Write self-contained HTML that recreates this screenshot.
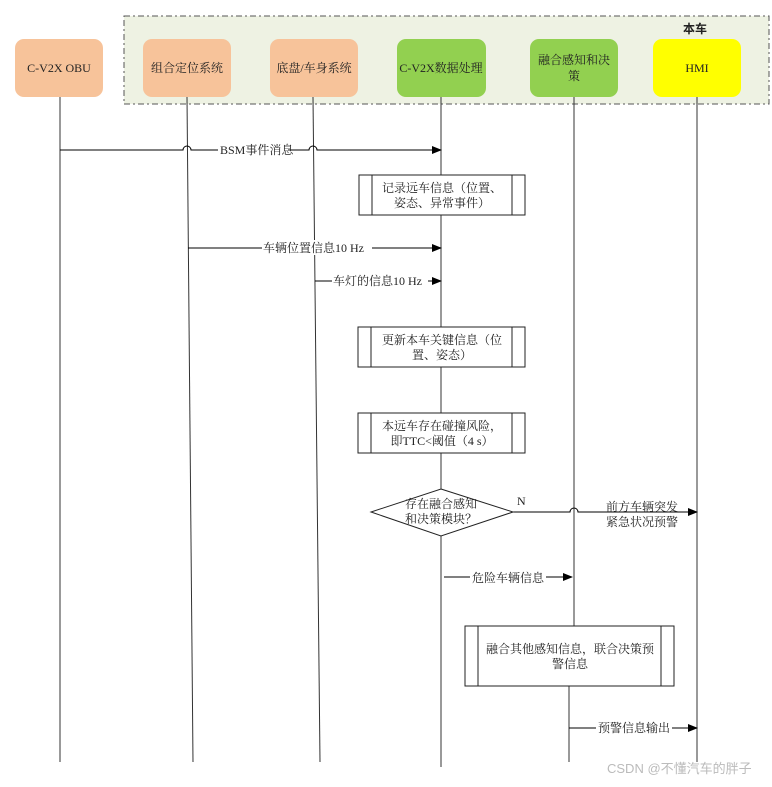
<!DOCTYPE html>
<html><head><meta charset="utf-8"><style>
body{margin:0;background:#fff;width:772px;height:782px;overflow:hidden}
svg text{font-family:"Liberation Serif","Noto Serif CJK SC","Noto Sans CJK SC",serif;font-size:12px;fill:#222}
</style></head><body>
<svg width="772" height="782" viewBox="0 0 772 782" xmlns="http://www.w3.org/2000/svg">
<defs><marker id="a" markerWidth="10" markerHeight="8" refX="9" refY="4" orient="auto" markerUnits="userSpaceOnUse"><path d="M0,0 L10,4 L0,8z" fill="#000"/></marker></defs>
<rect x="124" y="16" width="645" height="88" fill="#eef2e3" stroke="#555" stroke-dasharray="6,3,2,3"/>
<text x="683" y="33" font-weight="bold" style="font-family:'Noto Sans CJK SC',sans-serif;font-size:12px">本车</text>
<g stroke="#333" fill="none" stroke-width="1">
<line x1="60" y1="97" x2="60" y2="762"/>
<line x1="187" y1="97" x2="193" y2="762"/>
<line x1="313" y1="97" x2="320" y2="762"/>
<line x1="441" y1="97" x2="441" y2="767"/>
<line x1="574" y1="97" x2="574" y2="626"/>
<line x1="569" y1="686" x2="569" y2="762"/>
<line x1="697" y1="97" x2="697" y2="762"/>
</g>
<rect x="15" y="39" width="88" height="58" rx="9" fill="#f7c39a"/>
<rect x="143" y="39" width="88" height="58" rx="9" fill="#f7c39a"/>
<rect x="270" y="39" width="88" height="58" rx="9" fill="#f7c39a"/>
<rect x="397" y="39" width="89" height="58" rx="9" fill="#92d050"/>
<rect x="530" y="39" width="88" height="58" rx="9" fill="#92d050"/>
<rect x="653" y="39" width="88" height="58" rx="9" fill="#ffff00"/>
<g text-anchor="middle">
<text x="59" y="72">C-V2X OBU</text>
<text x="187" y="72">组合定位系统</text>
<text x="314" y="72">底盘/车身系统</text>
<text x="441" y="72">C-V2X数据处理</text>
<text x="574" y="64">融合感知和决</text><text x="574" y="80">策</text>
<text x="697" y="72">HMI</text>
</g>
<g stroke="#000" fill="none">
<path d="M60,150 L183,150 a4,4 0 0 1 8,0 L309,150 a4,4 0 0 1 8,0 L441,150" marker-end="url(#a)"/>
<line x1="188" y1="248" x2="441" y2="248" marker-end="url(#a)"/>
<line x1="315" y1="281" x2="441" y2="281" marker-end="url(#a)"/>
<path d="M513,512 L570,512 a4,4 0 0 1 8,0 L697,512" marker-end="url(#a)"/>
<line x1="444" y1="577" x2="572" y2="577" marker-end="url(#a)"/>
<line x1="569" y1="728" x2="697" y2="728" marker-end="url(#a)"/>
</g>
<g fill="#fff">
<rect x="218" y="142" width="70" height="15"/><rect x="262" y="240" width="110" height="15"/><rect x="332" y="273" width="96" height="15"/>
<rect x="470" y="569" width="76" height="15"/><rect x="596" y="720" width="76" height="15"/>
</g>
<g>
<text x="220" y="154">BSM事件消息</text>
<text x="263" y="252">车辆位置信息10 Hz</text>
<text x="333" y="285">车灯的信息10 Hz</text>
<text x="472" y="582">危险车辆信息</text>
<text x="598" y="732">预警信息输出</text>
<text x="517" y="505">N</text>
<text x="606" y="511">前方车辆突发</text>
<text x="606" y="526">紧急状况预警</text>
</g>
<g fill="#fff" stroke="#222">
<rect x="359" y="175" width="166" height="40"/><line x1="372" y1="175" x2="372" y2="215"/><line x1="512" y1="175" x2="512" y2="215"/>
<rect x="358" y="327" width="167" height="40"/><line x1="371" y1="327" x2="371" y2="367"/><line x1="512" y1="327" x2="512" y2="367"/>
<rect x="358" y="413" width="167" height="40"/><line x1="371" y1="413" x2="371" y2="453"/><line x1="512" y1="413" x2="512" y2="453"/>
<path d="M441,489 L513,512 L441,536 L371,512z"/>
<rect x="465" y="626" width="209" height="60"/><line x1="478" y1="626" x2="478" y2="686"/><line x1="661" y1="626" x2="661" y2="686"/>
</g>
<g text-anchor="middle">
<text x="442" y="192">记录远车信息（位置、</text><text x="442" y="207">姿态、异常事件）</text>
<text x="442" y="344">更新本车关键信息（位</text><text x="442" y="359">置、姿态）</text>
<text x="442" y="430">本远车存在碰撞风险，</text><text x="442" y="445">即TTC&lt;阈值（4 s）</text>
<text x="441" y="508">存在融合感知</text><text x="441" y="523">和决策模块？</text>
<text x="570" y="653">融合其他感知信息，联合决策预</text><text x="570" y="668">警信息</text>
</g>
<text x="607" y="773" style="font-family:'Liberation Sans','Noto Sans CJK SC',sans-serif;font-size:13px;fill:#bbb">CSDN @不懂汽车的胖子</text>
</svg>
</body></html>
